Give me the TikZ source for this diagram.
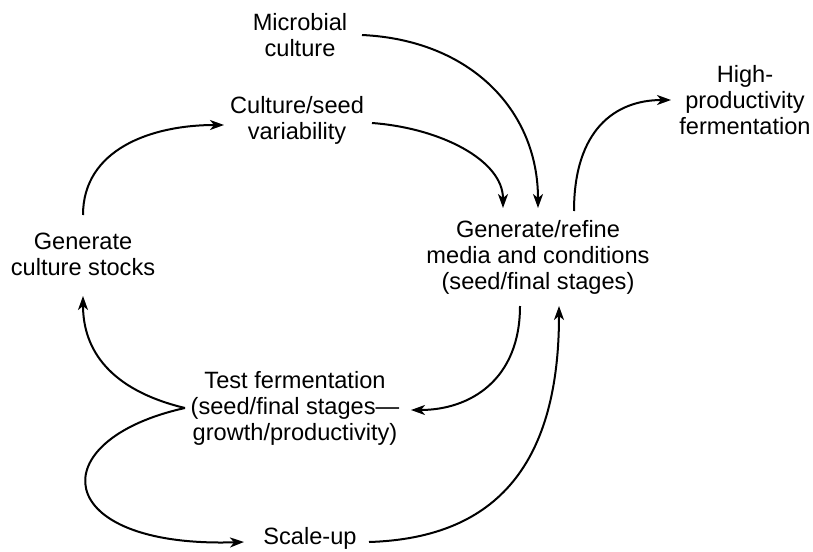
\documentclass[tikz,border=0pt]{standalone}
\usepackage{fontspec}
\setmainfont{Liberation Sans}
\usetikzlibrary{arrows.meta,calc}

\begin{document}
\begin{tikzpicture}[x=0.5pt, y=-0.5pt,
  every node/.style={align=center, inner sep=0pt, font=\fontsize{11.8}{13}\selectfont},
  flow/.style={line width=1pt, -{Stealth[length=7pt,width=5pt,inset=2pt]}}]
  % frame
  \useasboundingbox (0,0) rectangle (813,551);
  % stages
  \node (micro) at (300,35) {Microbial\\culture};
  \node (seedvar) at (297,120) {Culture/seed\\variability};
  \node (high) at (745,100) {High-\\productivity\\fermentation};
  \node (stocks) at (83,254) {Generate\\culture stocks};
  \node (media) at (538,257) {Generate/refine\\media and conditions\\(seed/final stages)};
  \node (test) at (295,408) {Test fermentation\\(seed/final stages---\\growth/productivity)};
  \node (scale) at (310,538) {Scale-up};
  % inputs to media
  \draw[flow] ($(micro)+(62,0)$) .. controls (470,40) and (538,110) .. ($(media)+(0,-49)$);
  \draw[flow] ($(seedvar)+(75,3)$) .. controls (440,128) and (503,160) .. ($(media)+(-35,-49)$);
  \draw[flow] ($(media)+(36,-46)$) .. controls (574,130) and (615,100) .. ($(high)+(-74,0)$);
  % cycle
  \draw[flow] ($(stocks)+(0,-39)$) .. controls (83,150) and (150,125) .. ($(seedvar)+(-73,5)$);
  \draw[flow] ($(media)+(-18,49)$) .. controls (520,380) and (470,410) .. ($(test)+(116,2)$);
  \draw[flow] ($(test)+(-110,0)$) .. controls (110,390) and (83,350) .. ($(stocks)+(0,42)$);
  % scale-up loop
  \draw[flow] ($(test)+(-110,0)$) .. controls (40,440) and (50,548) .. ($(scale)+(-66,4)$);
  \draw[flow] ($(scale)+(59,4)$) .. controls (500,538) and (559,460) .. ($(media)+(21,49)$);
\end{tikzpicture}
\end{document}
